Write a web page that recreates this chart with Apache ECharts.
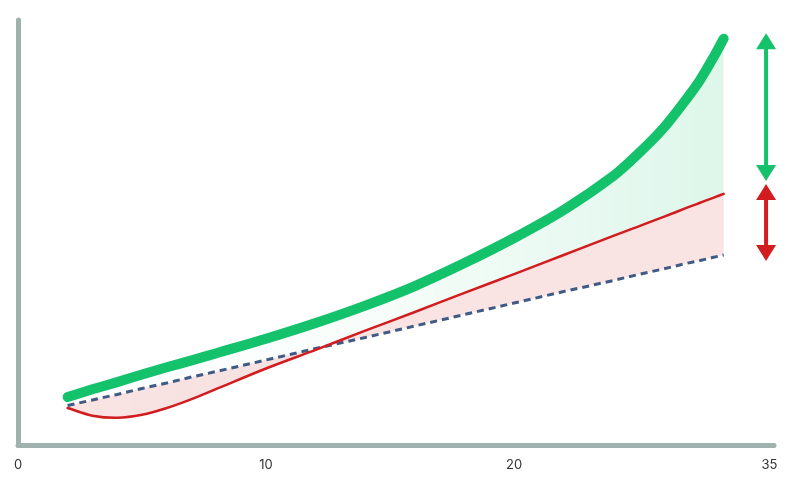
<!DOCTYPE html>
<html>
<head>
<meta charset="utf-8">
<script src="https://cdn.jsdelivr.net/npm/echarts@6/dist/echarts.min.js"></script>
<style>html,body{margin:0;padding:0;background:#fff}#chart{width:793px;height:490px}</style>
</head>
<body>
<div id="chart"></div>
<script>
const xValues = [2,3,4,5,6,7,8,10,12,14,16,18,20,22,24,25,26,27,27.5,28,28.45];
const greenValues = [11.3,13.1,14.8,16.6,18.3,19.9,21.6,25.0,28.7,32.8,37.4,42.8,48.7,55.3,63.3,68.5,74.4,81.8,85.9,90.8,95.6];
const redValues = [8.7,6.9,6.4,7.1,8.7,10.8,13.2,18.0,22.4,26.9,31.3,35.8,40.2,44.7,49.2,51.4,53.6,55.9,57.0,58.1,59.1];
const dashedValues = [9.3,10.6,11.9,13.3,14.6,16.0,17.3,20.0,22.7,25.3,28.0,30.7,33.4,36.1,38.7,40.1,41.4,42.8,43.4,44.1,44.7];
const xTickValues = [0, 10, 20, 30.3];
const xTickLabels = ['0', '10', '20', '35'];
const arrowX = 30.16;
const arrowTops = [96.9, 61.4];
const arrowBottoms = [62.1, 43.3];

const GREEN = '#13c26a', RED = '#d11d1f', DASH = '#3f5a84', AXIS = '#9fb2ae';
const arrowColors = [GREEN, RED];

const pairs = a => xValues.map((x, i) => [x, a[i]]);
const arrowData = arrowTops.map((t, i) => [arrowX, t, arrowBottoms[i]]);

// Hermite spline path through the projected pixel points (x-parameterised)
function splinePath(p, move) {
  const n = p.length;
  const m = p.map((pt, i) => {
    const a = p[Math.max(0, i - 1)], b = p[Math.min(n - 1, i + 1)];
    return (b[1] - a[1]) / (b[0] - a[0]);
  });
  let d = (move ? 'M' : 'L') + p[0][0] + ',' + p[0][1];
  for (let i = 0; i < n - 1; i++) {
    const h = (p[i + 1][0] - p[i][0]) / 3;
    d += 'C' + (p[i][0] + h) + ',' + (p[i][1] + m[i] * h) + ' ' +
         (p[i + 1][0] - h) + ',' + (p[i + 1][1] - m[i + 1] * h) + ' ' +
         p[i + 1][0] + ',' + p[i + 1][1];
  }
  return d;
}

const greenGrad = new echarts.graphic.LinearGradient(0, 0, 1, 0, [
  {offset: 0, color: 'rgba(19,194,106,0)'},
  {offset: 0.45, color: 'rgba(19,194,106,0.03)'},
  {offset: 1, color: 'rgba(19,194,106,0.14)'}]);

const bands = [
  {upper: redValues, lower: dashedValues, fill: 'rgba(215,40,40,0.13)'},
  {upper: greenValues, lower: redValues, fill: greenGrad}
];
const curves = [
  {values: redValues, color: RED, width: 2.5},
  {values: greenValues, color: GREEN, width: 10}
];

const chart = echarts.init(document.getElementById('chart'), null, {renderer: 'canvas'});
chart.setOption({
  animation: false,
  grid: {left: 18, right: 19, top: 20, bottom: 45},
  xAxis: {
    type: 'value', min: 0, max: 30.48,
    axisLine: {show: true, onZero: false, lineStyle: {color: AXIS, width: 5, cap: 'round'}},
    axisTick: {show: false},
    splitLine: {show: false},
    axisLabel: {
      customValues: xTickValues,
      margin: 14,
      color: '#333', fontSize: 13, fontFamily: 'Inter, sans-serif',
      formatter: v => { const i = xTickValues.findIndex(t => Math.abs(t - v) < 1e-6); return i >= 0 ? xTickLabels[i] : ''; }
    }
  },
  yAxis: {
    type: 'value', min: 0, max: 100,
    axisLine: {show: true, onZero: false, lineStyle: {color: AXIS, width: 5, cap: 'round'}},
    axisTick: {show: false}, axisLabel: {show: false}, splitLine: {show: false}
  },
  series: [
    {type: 'custom', data: bands.map((b, i) => [i]), z: 1, silent: true,
     renderItem: (params, api) => {
       const b = bands[params.dataIndex];
       const up = xValues.map((x, i) => api.coord([x, b.upper[i]]));
       const lo = xValues.map((x, i) => api.coord([x, b.lower[i]])).reverse();
       const d = splinePath(up, true) + splinePath(lo, false) + 'Z';
       return {type: 'path', shape: {pathData: d}, style: {fill: b.fill, stroke: null}};
     }},
    {type: 'line', data: pairs(dashedValues), showSymbol: false, z: 3,
     lineStyle: {color: DASH, width: 3, type: [7, 5]}},
    {type: 'custom', data: curves.map((c, i) => [i]), z: 4, silent: true,
     renderItem: (params, api) => {
       const c = curves[params.dataIndex];
       const pts = xValues.map((x, i) => api.coord([x, c.values[i]]));
       return {type: 'path', z2: params.dataIndex, shape: {pathData: splinePath(pts, true)},
               style: {fill: null, stroke: c.color, lineWidth: c.width, lineCap: 'round', lineJoin: 'round'}};
     }},
    {type: 'custom', data: arrowData, z: 6, clip: false,
     renderItem: (params, api) => {
       const x = api.value(0);
       const p1 = api.coord([x, api.value(1)]);
       const p2 = api.coord([x, api.value(2)]);
       const c = arrowColors[params.dataIndex];
       const hw = 10, hh = 16;
       return {type: 'group', children: [
         {type: 'line', shape: {x1: p1[0], y1: p1[1] + hh - 1, x2: p2[0], y2: p2[1] - hh + 1}, style: {stroke: c, lineWidth: 4}},
         {type: 'polygon', shape: {points: [[p1[0], p1[1]], [p1[0] - hw, p1[1] + hh], [p1[0] + hw, p1[1] + hh]]}, style: {fill: c}},
         {type: 'polygon', shape: {points: [[p2[0], p2[1]], [p2[0] - hw, p2[1] - hh], [p2[0] + hw, p2[1] - hh]]}, style: {fill: c}}
       ]};
     }}
  ]
});
</script>
</body>
</html>
